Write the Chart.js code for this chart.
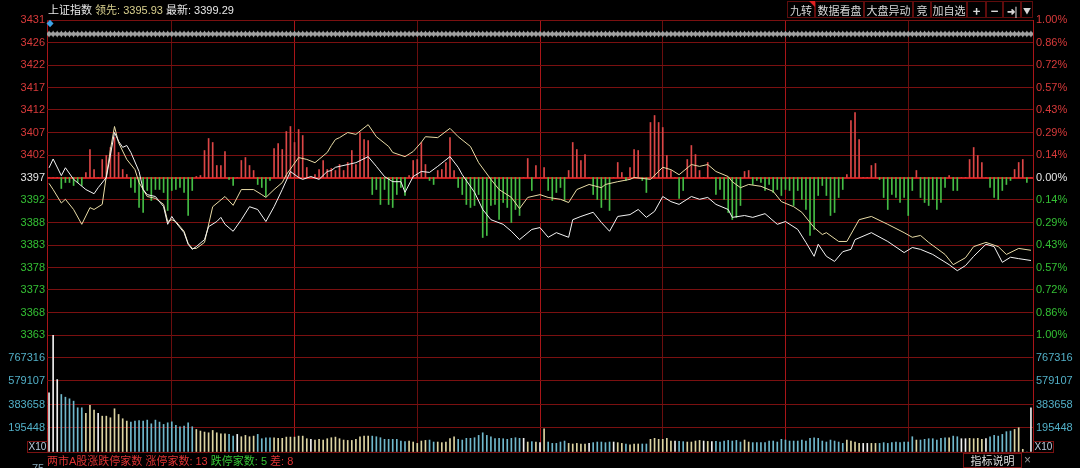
<!DOCTYPE html>
<html><head><meta charset="utf-8">
<script src="https://cdn.jsdelivr.net/npm/chart.js@4.4.0/dist/chart.umd.min.js"></script>
<style>
html,body{margin:0;padding:0;background:#000;width:1080px;height:468px;overflow:hidden;}
#wrap{position:relative;width:1080px;height:468px;background:#000;}
canvas{position:absolute;left:0;top:0;}
.t{position:absolute;white-space:nowrap;font-family:"Liberation Sans","Noto Sans CJK SC",sans-serif;font-size:11px;line-height:14px;}
.btn{position:absolute;top:1px;height:17px;border:1px solid #5e0c0c;color:#d8d8d8;font-family:"Noto Sans CJK SC","Liberation Sans",sans-serif;font-size:11px;line-height:17px;text-align:center;box-sizing:border-box;}
.box{position:absolute;border:1px solid #7a1212;box-sizing:border-box;text-align:center;font-family:"Liberation Sans",sans-serif;}
</style></head><body>
<div id="wrap">
<canvas id="cPrice" width="1080" height="468"></canvas>
<canvas id="cVol" width="1080" height="468"></canvas>
<div class="t" id="hdr" style="left:48px;top:3px;color:#e8e8e8"></div>
<div class="btn" style="left:787px;width:28px">九转</div>
<div class="btn" style="left:815px;width:49px">数据看盘</div>
<div class="btn" style="left:864px;width:49px">大盘异动</div>
<div class="btn" style="left:913px;width:18px">竞</div>
<div class="btn" style="left:931px;width:36px">加自选</div>
<div class="btn" style="left:967px;width:19px;font-weight:bold;font-size:13px">+</div>
<div class="btn" style="left:986px;width:17px;font-weight:bold;font-size:13px">−</div>
<div class="btn" style="left:1003px;width:18px;font-weight:bold;font-size:10px">➜|</div>
<div class="btn" style="left:1021px;width:12px;font-size:8px">▼</div>
<div style="position:absolute;left:809px;top:1px;width:0;height:0;border-top:6px solid #e02020;border-left:6px solid transparent"></div>
<div class="box" style="left:27px;top:441px;width:21px;height:12px;font-size:10px;line-height:10px;color:#bcd">X10</div>
<div class="box" style="left:1033px;top:441px;width:21px;height:12px;font-size:10px;line-height:10px;color:#bcd">X10</div>
<div class="t" id="foot" style="left:47px;top:454px"></div>
<div class="box" style="left:963px;top:453px;width:59px;height:15px;font-family:'Noto Sans CJK SC',sans-serif;font-size:11px;line-height:13px;color:#ddd">指标说明</div>
<div class="t" style="left:1024px;top:453px;color:#999;font-size:12px">×</div>
<div class="t" style="left:32px;top:461px;color:#8ab;font-size:11px">75</div>
</div>
<script>
// ---------------- data ----------------
const PREV_CLOSE = 3397.2;
const priceTickLabels = ['3431','3426','3422','3417','3412','3407','3402','3397','3392','3388','3383','3378','3373','3368','3363'];
const pctTickLabels = ['1.00%','0.86%','0.72%','0.57%','0.43%','0.29%','0.14%','0.00%','0.14%','0.29%','0.43%','0.57%','0.72%','0.86%','1.00%'];
const volTickLabels = ['767316','579107','383658','195448'];
const timeGridSlots = [30,60,90,120,150,180,210];
const limitUp = 13, limitDown = 5;

// white line (最新) : minute slot -> index value
const wSlots = [0,1,3,4,6,9,11,12,14,16,17,18,19,20,22,23,24,26,28,29,30,31,33,34,35,36,38,39,41,42,43,45,47,49,51,53,55,57,59,61,62,64,66,68,69,70,73,75,78,80,82,84,86,87,89,91,93,95,98,100,101,104,106,108,111,113,115,118,120,122,124,127,128,130,133,135,137,139,142,144,146,148,150,152,154,157,159,161,163,166,167,170,172,175,178,180,183,185,187,188,190,192,194,196,197,201,205,209,211,213,216,220,222,224,226,229,231,233,235,237,240];
const wPrices = [3399.29,3401.2,3397.6,3399.3,3396.8,3394.6,3393.7,3395.0,3397.2,3406.9,3405.0,3403.7,3404.1,3402.6,3398.5,3394.6,3393.5,3393.1,3390.9,3387.1,3388.8,3387.5,3385.3,3382.8,3381.7,3382.3,3383.8,3386.6,3387.7,3388.6,3387.1,3385.6,3388.1,3390.9,3390.3,3387.7,3390.9,3394.6,3398.5,3397.2,3396.8,3397.4,3396.8,3398.5,3398.7,3399.4,3400.0,3400.4,3401.7,3399.6,3397.4,3396.3,3396.3,3394.0,3397.4,3398.5,3398.3,3399.6,3401.7,3399.4,3397.8,3394.0,3390.3,3388.1,3387.1,3385.6,3383.8,3386.0,3386.4,3384.3,3385.3,3384.3,3388.1,3388.8,3389.7,3387.5,3385.6,3388.8,3389.2,3390.3,3388.6,3389.9,3393.1,3392.0,3391.4,3393.1,3392.5,3392.9,3391.4,3390.3,3388.6,3389.0,3388.6,3389.4,3387.1,3387.7,3386.0,3383.2,3380.2,3382.8,3380.2,3379.1,3381.2,3381.7,3383.8,3385.3,3383.4,3381.0,3382.1,3381.7,3380.6,3378.4,3377.1,3378.2,3380.2,3382.8,3382.3,3378.9,3380.0,3379.7,3379.3];

// yellow line (领先)
const ySlots = [0,1,3,4,6,8,9,10,11,13,14,15,16,17,19,21,22,24,26,28,29,30,31,33,34,35,36,38,40,43,45,47,50,52,53,55,57,58,61,63,65,68,69,70,71,73,75,78,80,83,84,87,89,91,92,95,98,100,103,105,108,110,113,115,117,120,122,125,127,129,132,135,136,139,142,143,147,150,152,154,157,159,161,163,166,167,169,171,174,177,179,182,184,187,189,190,193,195,198,201,205,209,211,213,215,219,221,224,226,229,232,234,237,240];
const yPrices = [3395.93,3394.6,3391.7,3392.5,3390.3,3387.1,3388.9,3390.7,3390.3,3391.4,3397.5,3403.2,3408.2,3404.7,3401.1,3398.9,3396.1,3393.1,3392.7,3391.4,3387.7,3388.1,3387.7,3385.6,3383.0,3381.9,3381.9,3383.2,3390.9,3393.1,3391.2,3394.6,3394.6,3393.5,3392.9,3394.6,3396.1,3397.8,3401.5,3401.1,3400.4,3402.6,3404.1,3405.4,3405.8,3406.9,3406.5,3408.6,3406.0,3403.9,3402.6,3401.7,3402.8,3404.8,3406.0,3405.8,3407.8,3406.0,3403.9,3400.4,3396.8,3394.6,3392.9,3390.5,3392.9,3393.5,3392.9,3392.5,3391.8,3394.6,3395.7,3395.0,3395.7,3396.3,3396.8,3397.2,3396.8,3399.4,3398.9,3397.8,3400.0,3399.6,3400.0,3398.5,3397.4,3396.3,3395.0,3395.7,3395.3,3394.2,3392.0,3390.9,3389.7,3386.4,3384.9,3385.3,3383.4,3383.4,3388.1,3388.8,3387.1,3385.3,3384.3,3384.7,3383.2,3380.6,3378.4,3379.9,3382.3,3383.2,3382.3,3380.6,3381.9,3381.5];

// red/green strength bars, one per minute (units: 157.5 = full half panel)
const power = [
0,0,0,-11,-5,-5,-8,-5,-8,5,
28,8,0,18,22,30,40,25,8,3,
-10,-15,-30,-35,-13,-23,-12,-12,-15,-33,
-13,-12,-10,-15,-38,-13,1,2,27,39,
35,12,12,26,-2,-8,0,17,20,12,
7,-7,-10,-19,-3,29,34,28,46,51,
35,48,42,10,0,3,8,17,8,9,
7,13,7,15,27,13,45,38,37,-17,
-12,-27,-12,-27,-30,-17,-10,-18,2,17,
18,35,13,-3,-7,7,8,15,40,7,
-10,-17,-27,-30,-28,-17,-60,-58,-28,-27,
-42,-25,-30,-45,-32,-38,0,19,-13,12,
0,10,-13,-23,-15,-10,-23,7,35,28,
17,23,0,-17,-22,-30,-22,-33,0,15,
5,-3,10,28,27,-3,-15,55,62,55,
50,22,7,0,-21,-13,18,32,23,7,
0,15,0,-17,-12,-22,-35,-42,-40,-28,
6,7,-7,-3,-5,-13,-7,-15,-12,-18,
-12,-13,-28,-13,-22,-32,-58,-52,-18,-8,
-18,-38,-35,-20,-12,3,57,65,38,0,
0,12,14,-2,-20,-32,-17,-20,-25,-20,
-38,-13,7,-20,-25,-28,-22,-32,-25,-10,
2,-13,-13,0,0,18,30,22,15,0,
-10,-20,-22,-13,-7,-3,8,15,18,-5,
0];

// minute volume (shown x10)
const volume = [
480000,947000,588000,467000,445000,432000,413000,359000,359000,313000,
378000,340000,313000,291000,291000,278000,351000,305000,270000,251000,
243000,251000,256000,251000,259000,229000,259000,243000,224000,237000,
245000,216000,205000,210000,237000,205000,183000,170000,162000,156000,
175000,156000,148000,148000,143000,129000,143000,124000,135000,124000,
129000,143000,108000,116000,116000,116000,111000,111000,121000,121000,
121000,129000,129000,108000,103000,97000,103000,97000,108000,116000,
121000,108000,97000,94000,94000,103000,124000,129000,129000,129000,
124000,116000,103000,103000,103000,103000,89000,84000,89000,81000,
70000,89000,94000,97000,81000,81000,76000,81000,108000,124000,
103000,97000,111000,111000,116000,135000,156000,135000,124000,108000,
111000,108000,103000,111000,116000,111000,111000,81000,84000,81000,
76000,189000,81000,70000,70000,81000,89000,70000,65000,70000,
65000,65000,70000,76000,81000,81000,76000,81000,81000,76000,
70000,65000,59000,65000,65000,65000,65000,103000,111000,103000,
103000,111000,89000,89000,86000,84000,81000,81000,89000,94000,
89000,86000,84000,86000,81000,89000,94000,89000,94000,81000,
97000,81000,76000,76000,76000,76000,89000,89000,81000,103000,
97000,89000,89000,89000,97000,89000,111000,116000,111000,89000,
81000,97000,89000,81000,70000,97000,89000,81000,70000,70000,
70000,70000,70000,70000,76000,70000,76000,81000,76000,81000,
81000,124000,97000,97000,103000,108000,108000,97000,111000,116000,
116000,129000,124000,108000,108000,111000,108000,111000,103000,108000,
124000,135000,129000,143000,165000,170000,183000,197000,22000,0,
359000];

// ---------------- text ----------------
document.getElementById('hdr').innerHTML =
  '上证指数 <span style="color:#d9d08e">领先: ' + yPrices[0].toFixed(2) + '</span> 最新: ' + wPrices[0].toFixed(2);
document.getElementById('foot').innerHTML =
  '<span style="color:#e03434">两市A股涨跌停家数 涨停家数: ' + limitUp + '</span> <span style="color:#36c436">跌停家数: ' + limitDown +
  '</span> <span style="color:#e03434">差: ' + (limitUp - limitDown) + '</span>';

// ---------------- styles ----------------
const GRID = '#7a1010', GRID_ZERO = '#c81e1e', VMAJOR = '#a81518', VMINOR = '#6a0e0e';
const UP = '#dc4646', DOWN = '#44bc44';
const FONT = {family:'"Liberation Sans", Arial, sans-serif', size:11};
function isMajor(v){ return v < 0 || v > 240 || v === 60 || v === 120 || v === 180; }
function xScale(){
  return {type:'linear', min:-0.5, max:240.5, offset:false, bounds:'ticks',
    afterBuildTicks: s => { s.ticks = [-0.5, ...timeGridSlots, 240.5].map(v => ({value:v})); },
    ticks:{display:false},
    grid:{color: c => isMajor(c.tick ? c.tick.value : 0) ? VMAJOR : VMINOR,
          tickBorderDash: c => isMajor(c.tick ? c.tick.value : 0) ? [] : [1, 2],
          drawTicks:false, lineWidth:1, offset:false},
    border:{display:false},
    afterFit: s => { s.height = 0; }};
}
const step = PREV_CLOSE * 0.01 / 7;
function sideColor(i){ return i < 7 ? '#d83a3a' : (i === 7 ? '#e6e6e6' : '#34c034'); }

const decor = {id:'decor', afterDatasetsDraw(chart){
  const {ctx, chartArea:a, scales} = chart; const xs = scales.x;
  ctx.save();
  const yc = a.top + 14;
  ctx.fillStyle = '#a0a0a0';
  ctx.fillRect(a.left, yc - 1.5, a.right - a.left, 3);
  for (let i = 0; i <= 240; i++) {
    const cx = xs.getPixelForValue(i);
    ctx.beginPath(); ctx.moveTo(cx - 2.1, yc); ctx.lineTo(cx, yc - 3.6); ctx.lineTo(cx + 2.1, yc); ctx.lineTo(cx, yc + 3.6); ctx.closePath(); ctx.fill();
  }
  ctx.fillStyle = '#3ea2e6';
  const bx = xs.getPixelForValue(0) + 1, by = a.top + 3.5;
  ctx.beginPath(); ctx.moveTo(bx - 3.5, by); ctx.lineTo(bx, by - 3.8); ctx.lineTo(bx + 3.5, by); ctx.lineTo(bx, by + 3.8); ctx.closePath(); ctx.fill();
  ctx.restore();
}};

new Chart(document.getElementById('cPrice'), {
  type:'bar',
  data:{datasets:[
    {type:'line', data: wSlots.map((s,i)=>({x:s, y:wPrices[i]})), yAxisID:'y', borderColor:'#f4f4f4', borderWidth:1, pointRadius:0, tension:0, order:1},
    {type:'line', data: ySlots.map((s,i)=>({x:s, y:yPrices[i]})), yAxisID:'y', borderColor:'#e9dca6', borderWidth:1, pointRadius:0, tension:0, order:2},
    {type:'bar', data: power.map((v,i)=>({x:i, y:v})), yAxisID:'yPow', barThickness:1, grouped:false,
      backgroundColor: c => (c.raw && c.raw.y >= 0) ? UP : DOWN, order:5}
  ]},
  options:{responsive:false, animation:false, devicePixelRatio:1,
    layout:{padding:{top:20, bottom:133, left:0, right:0}},
    plugins:{legend:{display:false}, tooltip:{enabled:false}},
    scales:{
      x: xScale(),
      y:{position:'left', min:PREV_CLOSE*0.99, max:PREV_CLOSE*1.01,
        afterBuildTicks: s => { s.ticks = priceTickLabels.map((l,k)=>({value: PREV_CLOSE + (7-k)*step})); },
        afterFit: s => { s.width = 47; },
        ticks:{autoSkip:false, padding:2, font:FONT, color: c => sideColor(c.index), callback:(v,i)=>priceTickLabels[i]},
        grid:{drawTicks:false, color: c => c.index === 7 ? GRID_ZERO : GRID, lineWidth: c => c.index === 7 ? 2 : 1},
        border:{display:false}},
      yPct:{position:'right', min:-1, max:1,
        afterBuildTicks: s => { s.ticks = pctTickLabels.map((l,k)=>({value:(7-k)/7})); },
        afterFit: s => { s.width = 47; },
        ticks:{autoSkip:false, padding:3, font:FONT, color: c => sideColor(c.index), callback:(v,i)=>pctTickLabels[i]},
        grid:{display:false, drawTicks:false}, border:{display:false}},
      yPow:{display:false, min:-157.5, max:157.5}
    }},
  plugins:[decor]
});

function volColor(i){ const p = power[i]; return p > 0 ? '#dcd4a2' : (p < 0 ? '#70b8cc' : '#eeeeee'); }
const volTicks = [0, ...volTickLabels.map(Number)];
const volLabel = (v, i) => i === 0 ? '' : volTickLabels[i - 1];
new Chart(document.getElementById('cVol'), {
  type:'bar',
  data:{datasets:[
    {data: volume.map((v,i)=>({x:i, y:v})), yAxisID:'yv', barThickness:1, grouped:false,
      backgroundColor: c => volColor(c.dataIndex)}
  ]},
  options:{responsive:false, animation:false, devicePixelRatio:1,
    layout:{padding:{top:335, bottom:16, left:0, right:0}},
    plugins:{legend:{display:false}, tooltip:{enabled:false}},
    scales:{
      x: xScale(),
      yv:{position:'left', min:0, max:950000,
        afterBuildTicks: s => { s.ticks = volTicks.map(v=>({value:v})); },
        afterFit: s => { s.width = 47; },
        ticks:{autoSkip:false, padding:2, font:FONT, color:'#52b0c8', callback:volLabel},
        grid:{drawTicks:false, color: GRID, lineWidth:1}, border:{display:false}},
      yv2:{position:'right', min:0, max:950000,
        afterBuildTicks: s => { s.ticks = volTicks.map(v=>({value:v})); },
        afterFit: s => { s.width = 47; },
        ticks:{autoSkip:false, padding:3, font:FONT, color:'#52b0c8', callback:volLabel},
        grid:{display:false, drawTicks:false}, border:{display:false}}
    }}
});
</script>
</body></html>
